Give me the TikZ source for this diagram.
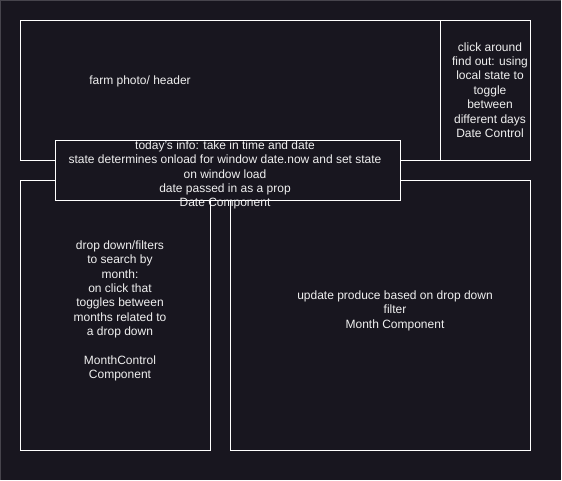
\documentclass[tikz,border=0pt]{standalone}
\usepackage{fontspec}
\setmainfont{Liberation Sans}
\definecolor{bg}{RGB}{24,22,31}
\definecolor{fg}{RGB}{240,240,240}
\definecolor{edge}{RGB}{70,68,76}
\begin{document}
\begin{tikzpicture}[x=1pt,y=-1pt,
  box/.style={draw=white, line width=1pt, rectangle, inner sep=0pt, anchor=north west},
  txt/.style={text=fg, font=\fontsize{12}{14.4}\selectfont, align=center, inner sep=0pt}]
\fill[bg] (0,0) rectangle (562,481);
\useasboundingbox (0,0) rectangle (562,481);
\draw[edge, line width=1pt] (0,0.5) -- (562,0.5);
\draw[edge, line width=1pt] (0.5,0) -- (0.5,481);
\draw[white, line width=1pt] (561,0) -- (561,481);
\draw[white, line width=1pt] (0,480) -- (562,480);
% boxes
\node[box, minimum width=420pt, minimum height=140pt] (header) at (20,20) {};
\node[box, minimum width=90pt, minimum height=140pt] (datectl) at (440,20) {};
\node[box, minimum width=190pt, minimum height=270pt] (monthctl) at (20,180) {};
\node[box, minimum width=300pt, minimum height=270pt] (month) at (230,180) {};
\node[box, fill=bg, minimum width=345pt, minimum height=60pt] (datecomp) at (55,140) {};
% texts
\node[txt] (headertxt) at (140,81) {farm photo/ header};
\node[txt] (datectltxt) at (490,90) {click around\\find out: using\\local state to\\toggle\\between\\different days\\Date Control};
\node[txt] (datecomptxt) at (225,175) {today's info: take in time and date\\state determines onload for window date.now and set state\\on window load\\date passed in as a prop\\Date Component};
\node[txt] (monthctltxt) at (120,311) {drop down/filters\\to search by\\month:\\on click that\\toggles between\\months related to\\a drop down\\[14.4pt]MonthControl\\Component};
\node[txt] (monthtxt) at (395,310.5) {update produce based on drop down\\filter\\Month Component};
\end{tikzpicture}
\end{document}
